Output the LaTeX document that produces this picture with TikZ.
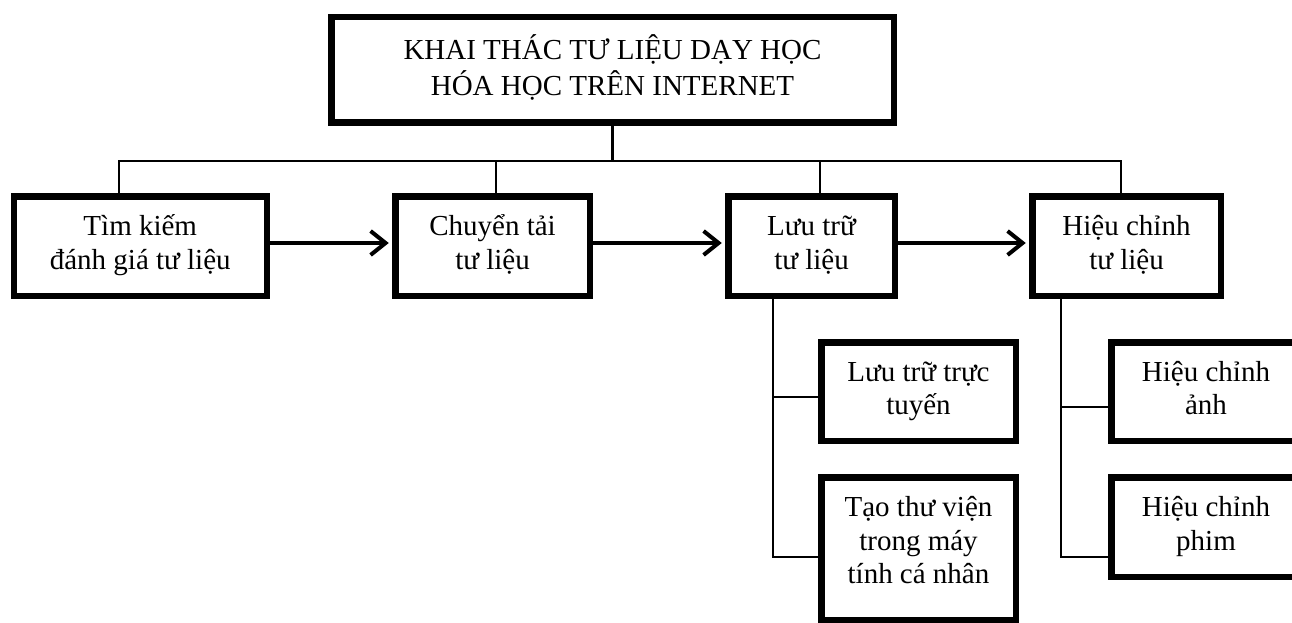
\documentclass[tikz,border=0pt]{standalone}
\usepackage{fontspec}
\setmainfont{Liberation Serif}
\usetikzlibrary{arrows.meta}
\begin{document}
\begin{tikzpicture}[x=1pt,y=-1pt,
  box/.style={draw,line width=6.5pt,inner sep=0pt,align=center,
    font=\fontsize{29}{33.5}\selectfont,minimum height=99.5pt},
  thinline/.style={line width=2.5pt},
  arr/.style={line width=4pt,-{Straight Barb[length=15pt,width=24pt]},shorten >=3.25pt}]
\fill[white] (0,0) rectangle (1292,623);
\clip (0,0) rectangle (1292,623);
% boxes
\node[box,minimum width=562.5pt,minimum height=105.5pt] (top) at (612.5,70)
  {\strut KHAI THÁC TƯ LIỆU DẠY HỌC\\\strut HÓA HỌC TRÊN INTERNET};
\node[box,minimum width=253pt] (tim) at (140.25,246) {\strut Tìm kiếm\\\strut đánh giá tư liệu};
\node[box,minimum width=194.5pt] (chuyen) at (492.5,246) {\strut Chuyển tải\\\strut tư liệu};
\node[box,minimum width=166.5pt] (luu) at (811.5,246) {\strut Lưu trữ\\\strut tư liệu};
\node[box,minimum width=188.5pt] (hieu) at (1126.5,246) {\strut Hiệu chỉnh\\\strut tư liệu};
\node[box,minimum width=194.5pt,minimum height=98.5pt] (luutt) at (918.5,391.5) {\strut Lưu trữ trực\\\strut tuyến};
\node[box,minimum width=194.5pt,minimum height=142.5pt] (tao) at (918.5,548.5)
  {\strut Tạo thư viện\\\strut trong máy\\\rule[-20pt]{0pt}{30pt}tính cá nhân};
\node[box,minimum width=189.5pt,minimum height=98.5pt] (hanh) at (1206,391.5) {\strut Hiệu chỉnh\\\strut ảnh};
\node[box,minimum width=189.5pt] (hphim) at (1206,527) {\strut Hiệu chỉnh\\\strut phim};
% bus coordinates
\coordinate (j1) at (119,161);
\coordinate (j2) at (496,161);
\coordinate (j3) at (820,161);
\coordinate (j4) at (1121,161);
\coordinate (la) at (773,397);
\coordinate (lb) at (773,557);
\coordinate (ha) at (1061,407);
\coordinate (hb) at (1061,557);
% connectors
\draw[thinline] (top.south) -- (top.south |- j1);
\draw[thinline] (j1 |- tim.north) -- (j1) -- (j4) -- (j4 |- hieu.north);
\draw[thinline] (j2) -- (j2 |- chuyen.north);
\draw[thinline] (j3) -- (j3 |- luu.north);
\draw[thinline] (la |- luu.south) -- (lb) -- (lb -| tao.west);
\draw[thinline] (la) -- (la -| luutt.west);
\draw[thinline] (ha |- hieu.south) -- (hb) -- (hb -| hphim.west);
\draw[thinline] (ha) -- (ha -| hanh.west);
% arrows
\draw[arr] ([yshift=3pt]tim.east) -- ([yshift=3pt]chuyen.west);
\draw[arr] ([yshift=3pt]chuyen.east) -- ([yshift=3pt]luu.west);
\draw[arr] ([yshift=3pt]luu.east) -- ([yshift=3pt]hieu.west);
\end{tikzpicture}
\end{document}
